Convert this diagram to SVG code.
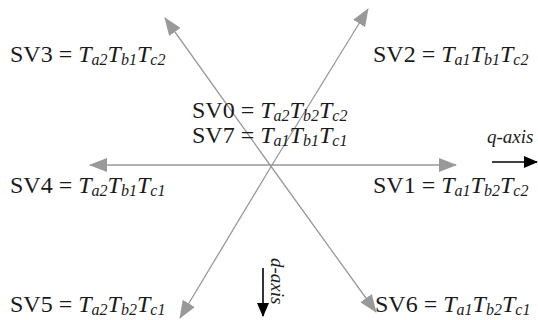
<svg xmlns="http://www.w3.org/2000/svg" width="538" height="320" viewBox="0 0 538 320">
<style>
text{font-family:"Liberation Serif","Times New Roman","DejaVu Serif",serif}
.lbl{font-size:24px;fill:#1a1a1a}
.it{font-style:italic}
.sb{font-style:italic;font-size:16px}
.vec{stroke:#999;stroke-width:1.3;fill:none}
.axis{stroke:#000;stroke-width:1.6;fill:none}
.ax{font-style:italic;font-size:19px;fill:#1a1a1a}
</style>
<defs>
<marker id="ag" viewBox="0 0 18 14" refX="17" refY="7" markerWidth="18" markerHeight="14" markerUnits="userSpaceOnUse" orient="auto">
<path d="M0,0 L18,7 L0,14 Z" fill="#999"/>
</marker>
<marker id="ab" viewBox="0 0 14 12" refX="13" refY="6" markerWidth="14" markerHeight="12" markerUnits="userSpaceOnUse" orient="auto">
<path d="M0,0 L14,6 L0,12 Z" fill="#000"/>
</marker>
</defs>
<g id="connectors">
<line class="vec" x1="270" y1="165" x2="90" y2="165" marker-end="url(#ag)"/>
<line class="vec" x1="270" y1="165" x2="456" y2="165" marker-end="url(#ag)"/>
<line class="vec" x1="270" y1="165" x2="165" y2="18" marker-end="url(#ag)"/>
<line class="vec" x1="270" y1="165" x2="376" y2="312" marker-end="url(#ag)"/>
<line class="vec" x1="272" y1="165" x2="368" y2="9" marker-end="url(#ag)"/>
<line class="vec" x1="272" y1="165" x2="180" y2="318" marker-end="url(#ag)"/>
<line class="axis" x1="492" y1="162" x2="537" y2="162" marker-end="url(#ab)"/>
<line class="axis" x1="263" y1="268" x2="263" y2="316" marker-end="url(#ab)"/>
</g>
<g id="sv3"><text class="lbl" x="10" y="62">SV3 = <tspan class="it">T</tspan><tspan class="sb" dy="3">a2</tspan><tspan class="it" dy="-3">T</tspan><tspan class="sb" dy="3">b1</tspan><tspan class="it" dy="-3">T</tspan><tspan class="sb" dy="3">c2</tspan></text></g>
<g id="sv2"><text class="lbl" x="373" y="62">SV2 = <tspan class="it">T</tspan><tspan class="sb" dy="3">a1</tspan><tspan class="it" dy="-3">T</tspan><tspan class="sb" dy="3">b1</tspan><tspan class="it" dy="-3">T</tspan><tspan class="sb" dy="3">c2</tspan></text></g>
<g id="sv0"><text class="lbl" x="192" y="118">SV0 = <tspan class="it">T</tspan><tspan class="sb" dy="3">a2</tspan><tspan class="it" dy="-3">T</tspan><tspan class="sb" dy="3">b2</tspan><tspan class="it" dy="-3">T</tspan><tspan class="sb" dy="3">c2</tspan></text></g>
<g id="sv7"><text class="lbl" x="192" y="143">SV7 = <tspan class="it">T</tspan><tspan class="sb" dy="3">a1</tspan><tspan class="it" dy="-3">T</tspan><tspan class="sb" dy="3">b1</tspan><tspan class="it" dy="-3">T</tspan><tspan class="sb" dy="3">c1</tspan></text></g>
<g id="sv4"><text class="lbl" x="10" y="193">SV4 = <tspan class="it">T</tspan><tspan class="sb" dy="3">a2</tspan><tspan class="it" dy="-3">T</tspan><tspan class="sb" dy="3">b1</tspan><tspan class="it" dy="-3">T</tspan><tspan class="sb" dy="3">c1</tspan></text></g>
<g id="sv1"><text class="lbl" x="373" y="193">SV1 = <tspan class="it">T</tspan><tspan class="sb" dy="3">a1</tspan><tspan class="it" dy="-3">T</tspan><tspan class="sb" dy="3">b2</tspan><tspan class="it" dy="-3">T</tspan><tspan class="sb" dy="3">c2</tspan></text></g>
<g id="sv5"><text class="lbl" x="10" y="312">SV5 = <tspan class="it">T</tspan><tspan class="sb" dy="3">a2</tspan><tspan class="it" dy="-3">T</tspan><tspan class="sb" dy="3">b2</tspan><tspan class="it" dy="-3">T</tspan><tspan class="sb" dy="3">c1</tspan></text></g>
<g id="sv6"><text class="lbl" x="375" y="312">SV6 = <tspan class="it">T</tspan><tspan class="sb" dy="3">a1</tspan><tspan class="it" dy="-3">T</tspan><tspan class="sb" dy="3">b2</tspan><tspan class="it" dy="-3">T</tspan><tspan class="sb" dy="3">c1</tspan></text></g>
<g id="qaxis"><text class="ax" x="487" y="143">q-axis</text></g>
<g id="daxis"><text class="ax" transform="translate(271,258) rotate(90)" x="0" y="0">d-axis</text></g>
</svg>
